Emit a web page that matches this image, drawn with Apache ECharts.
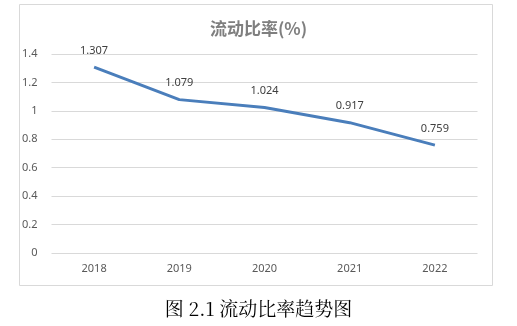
<!DOCTYPE html>
<html><head><meta charset="utf-8">
<script src="https://cdn.jsdelivr.net/npm/echarts@6/dist/echarts.min.js"></script>
<style>html,body{margin:0;padding:0;background:#fff}#c{width:517px;height:326px}</style>
</head><body><div id="c"></div>
<script>
const categories = ['2018','2019','2020','2021','2022'];
const values = [1.307, 1.079, 1.024, 0.917, 0.759];
const yTicks = [0, 0.2, 0.4, 0.6, 0.8, 1, 1.2, 1.4];
const titleText = '流动比率(%)';
const captionText = '图 2.1 流动比率趋势图';

const chart = echarts.init(document.getElementById('c'), null, {renderer:'canvas'});
chart.setOption({
  animation:false,
  backgroundColor:'#fff',
  title:{text:titleText,left:'center',top:15,textStyle:{color:'#7f7f7f',fontSize:17,fontWeight:'bold',fontFamily:'Noto Sans CJK SC'}},
  graphic:[
    {type:'rect',shape:{x:19.5,y:4.5,width:473,height:281},style:{fill:'none',stroke:'#d9d9d9',lineWidth:1},z:-1},
    {type:'text',left:'center',top:299,style:{text:captionText,font:'19px "Noto Serif CJK SC", "Noto Sans CJK SC", serif',fill:'#000'}}
  ],
  grid:{left:51.5,right:39.5,top:54,bottom:73,containLabel:false},
  xAxis:{type:'category',data:categories,boundaryGap:true,
    axisLine:{show:false},axisTick:{show:false},
    axisLabel:{color:'#595959',fontSize:11,margin:10,fontFamily:'Noto Sans'}},
  yAxis:{type:'value',min:0,max:1.4,interval:0.2,
    axisLine:{show:false},axisTick:{show:false},
    splitLine:{lineStyle:{color:'#d9d9d9',width:1}},
    axisLabel:{color:'#595959',fontSize:11,margin:14,fontFamily:'Noto Sans',
      formatter:v=>{const t=yTicks.find(x=>Math.abs(x-v)<1e-9);return String(t!==undefined?t:v);}}},
  series:[{type:'line',data:values,symbol:'circle',symbolSize:2,showSymbol:true,
    itemStyle:{color:'rgba(74,126,187,0)',borderWidth:0},
    lineStyle:{color:'#4a7ebb',width:3},
    label:{show:true,position:'top',distance:10,color:'#404040',fontSize:11,fontFamily:'Noto Sans',
      formatter:p=>p.value.toFixed(3)}}]
});
</script></body></html>
